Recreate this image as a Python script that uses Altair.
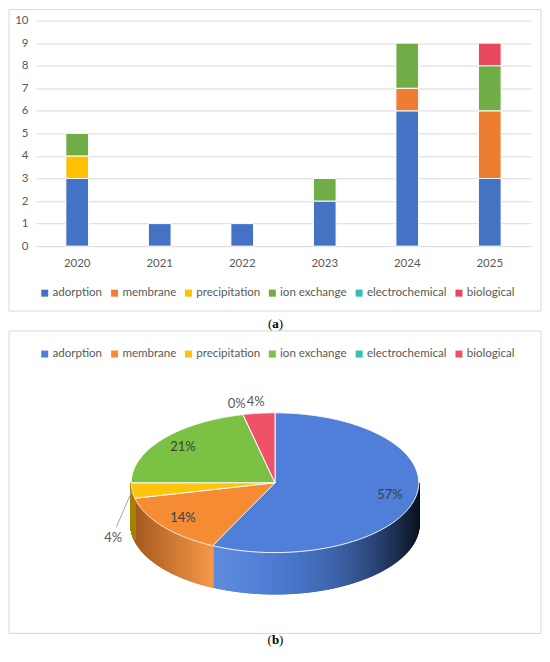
import altair as alt
import pandas as pd

# ---------------- data ----------------
years = ["2020", "2021", "2022", "2023", "2024", "2025"]
categories = ["adorption", "membrane", "precipitation", "ion exchange",
              "electrochemical", "biological"]
adorption = [3, 1, 1, 2, 6, 3]
membrane = [0, 0, 0, 0, 1, 3]
precipitation = [1, 0, 0, 0, 0, 0]
ion_exchange = [1, 0, 0, 1, 2, 2]
electrochemical = [0, 0, 0, 0, 0, 0]
biological = [0, 0, 0, 0, 0, 1]
y_ticks = [0, 1, 2, 3, 4, 5, 6, 7, 8, 9, 10]

series = [adorption, membrane, precipitation, ion_exchange, electrochemical, biological]

# ---------------- style ----------------
bar_colors = ["#4472c4", "#ed7d31", "#ffc000", "#70ad47", "#2ebfb3", "#e8485e"]
pie_colors = ["#4f7fd9", "#f58b33", "#ffc30d", "#7bc143", "#2fc4b7", "#ef5168"]
FONT = "Lato"
SERIF = "Liberation Serif"
GRAY = "#595959"
FRAME = "#d9d9d9"


def hex_rgb(h):
    h = h.lstrip("#")
    return [int(h[i:i + 2], 16) for i in (0, 2, 4)]


pie_rgb = [hex_rgb(c) for c in pie_colors]

rows = []
for ci, (cat, vals) in enumerate(zip(categories, series)):
    for yr, v in zip(years, vals):
        rows.append({"year": yr, "category": cat, "cat_idx": ci, "count": v})
bar_df = pd.DataFrame(rows)

pie_df = pd.DataFrame({
    "category": categories,
    "cat_idx": list(range(len(categories))),
    "total": [sum(v) for v in series],
})
deco_df = pd.DataFrame({"k": [0]})

# frame geometry (relative to each panel's plot origin)
FL, FR = -27, 506

# ---------------- panel (a): stacked bars ----------------
legend_common = dict(
    orient="none", direction="horizontal", title=None, symbolType="square",
    symbolSize=49, symbolStrokeWidth=0, labelFont=FONT, labelFontSize=11.6,
    labelColor=GRAY, columnPadding=6, labelOffset=2, padding=0,
)

bars = (
    alt.Chart(bar_df)
    .transform_filter("datum.count > 0")
    .mark_bar(stroke="white", strokeWidth=1)
    .encode(
        x=alt.X("year:N", sort=years,
                scale=alt.Scale(paddingInner=0.725, paddingOuter=0.3625),
                axis=alt.Axis(title=None, labelAngle=0, domain=False, ticks=False,
                              labelPadding=11, labelFont=FONT, labelFontSize=11.5,
                              labelColor=GRAY)),
        y=alt.Y("count:Q", stack="zero",
                scale=alt.Scale(domain=[0, 10], nice=False),
                axis=alt.Axis(title=None, values=y_ticks, domain=False, ticks=False,
                              labelPadding=8, labelFont=FONT, labelFontSize=11.5,
                              labelColor=GRAY, gridColor=FRAME, gridWidth=1)),
        color=alt.Color("category:N",
                        scale=alt.Scale(domain=categories, range=bar_colors),
                        legend=alt.Legend(legendX=3, legendY=267, **legend_common)),
        order=alt.Order("cat_idx:Q", sort="ascending"),
    )
)

frame_a = alt.Chart(deco_df).mark_rect(fillOpacity=0, stroke=FRAME, strokeWidth=1).encode(
    x=alt.value(FL), x2=alt.value(FR), y=alt.value(-11), y2=alt.value(291)
)

panel_a = alt.layer(frame_a, bars).properties(width=496, height=226)

# ---------------- panel (b): 3-D pie ----------------
PW, PH = FR, 334
X0, Y0 = 35.5, 312
CX, CY, A, B, DEPTH = 275, 482, 144, 70, 42
N_ARC, N_SIDE = 120, 300
R_IN, R_OUT = 0.82, 1.2
LDX, LDY = -19, 48

xs = alt.Scale(domain=[X0, X0 + PW], nice=False, zero=False)
ys = alt.Scale(domain=[Y0, Y0 + PH], nice=False, zero=False, reverse=True)
pie_scale = alt.Scale(domain=categories, range=pie_colors)
pie_legend = alt.Legend(legendX=3, legendY=35, **legend_common)

R_ARR = "[" + ",".join(str(c[0]) for c in pie_rgb) + "]"
G_ARR = "[" + ",".join(str(c[1]) for c in pie_rgb) + "]"
B_ARR = "[" + ",".join(str(c[2]) for c in pie_rgb) + "]"


def pie_base():
    return (
        alt.Chart(pie_df)
        .transform_joinaggregate(grand="sum(total)")
        .transform_window(cum="sum(total)", sort=[alt.SortField("cat_idx")], frame=[None, 0])
        .transform_calculate(a0="2*PI*(datum.cum - datum.total)/datum.grand")
        .transform_calculate(a1="2*PI*datum.cum/datum.grand")
        .transform_calculate(pct="datum.total/datum.grand")
    )


top = (
    pie_base()
    .transform_calculate(pts=f"sequence(0, {N_ARC + 2})")
    .transform_flatten(["pts"])
    .transform_calculate(th=f"datum.a0 + (datum.a1 - datum.a0)*(datum.pts - 1)/{N_ARC}")
    .transform_calculate(px=f"datum.pts == 0 ? {CX} : {CX} + {A}*sin(datum.th)")
    .transform_calculate(py=f"datum.pts == 0 ? {CY} : {CY} - {B}*cos(datum.th)")
    .mark_line(filled=True, interpolate="linear-closed", stroke="white",
               strokeWidth=1, strokeOpacity=0.9, strokeJoin="round")
    .encode(
        x=alt.X("px:Q", scale=xs, axis=None),
        y=alt.Y("py:Q", scale=ys, axis=None),
        order=alt.Order("pts:Q"),
        color=alt.Color("category:N", scale=pie_scale, legend=pie_legend),
    )
)

side = (
    pie_base()
    .transform_calculate(lo="max(datum.a0, PI/2)")
    .transform_calculate(hi="min(datum.a1, 3*PI/2)")
    .transform_filter("datum.hi > datum.lo")
    .transform_calculate(s=f"sequence(0, {N_SIDE + 1})")
    .transform_flatten(["s"])
    .transform_calculate(th=f"datum.lo + (datum.hi - datum.lo)*datum.s/{N_SIDE}")
    .transform_calculate(sx=f"{CX} + {A}*sin(datum.th)")
    .transform_calculate(sy=f"{CY} - {B}*cos(datum.th)")
    .transform_calculate(sy2=f"datum.sy + {DEPTH}")
    .transform_calculate(u="sin(datum.th)")
    .transform_calculate(
        shade="datum.u > -0.45 ? 0.86*pow((datum.u + 0.45)/1.45, 2.6) : 0.34*(-0.45 - datum.u)/0.55"
    )
    .transform_calculate(lit="0.1*max(0, 1 - abs(datum.u + 0.45)/0.5)")
    .transform_calculate(
        col=(
            f"'rgb(' + round({R_ARR}[datum.cat_idx]*(1 - datum.shade) + (255 - {R_ARR}[datum.cat_idx])*datum.lit)"
            f" + ',' + round({G_ARR}[datum.cat_idx]*(1 - datum.shade) + (255 - {G_ARR}[datum.cat_idx])*datum.lit)"
            f" + ',' + round({B_ARR}[datum.cat_idx]*(1 - datum.shade) + (255 - {B_ARR}[datum.cat_idx])*datum.lit) + ')'"
        )
    )
    .mark_rule(strokeWidth=2)
    .encode(
        x=alt.X("sx:Q", scale=xs, axis=None),
        y=alt.Y("sy:Q", scale=ys, axis=None),
        y2=alt.Y2("sy2:Q"),
        color=alt.Color("col:N", scale=None),
    )
)

label_base = (
    pie_base()
    .transform_calculate(mid="(datum.a0 + datum.a1)/2")
    .transform_calculate(small="datum.pct < 0.05")
    .transform_calculate(lead="datum.small && cos(datum.mid) < 0")
    .transform_calculate(rx=f"{CX} + {A}*sin(datum.mid)")
    .transform_calculate(ry=f"{CY} - {B}*cos(datum.mid)")
    .transform_calculate(
        lx=f"datum.lead ? datum.rx + ({LDX}) : (datum.small ? {CX} + {R_OUT * A}*sin(datum.mid) : {CX} + {R_IN * A}*sin(datum.mid))"
    )
    .transform_calculate(
        ly=f"datum.lead ? datum.ry + {LDY} : (datum.small ? {CY} - {R_OUT * B}*cos(datum.mid) + 3 : {CY} - {R_IN * B}*cos(datum.mid))"
    )
    .transform_calculate(lx2="datum.lx + 3")
    .transform_calculate(ly2="datum.ly - 11")
    .transform_calculate(label="format(datum.pct, '.0%')")
)

leader = label_base.transform_filter("datum.lead").mark_rule(color="#a6a6a6", strokeWidth=1).encode(
    x=alt.X("rx:Q", scale=xs, axis=None),
    y=alt.Y("ry:Q", scale=ys, axis=None),
    x2=alt.X2("lx2:Q"),
    y2=alt.Y2("ly2:Q"),
)

labels = label_base.mark_text(font=FONT, fontSize=13, baseline="middle", align="center").encode(
    x=alt.X("lx:Q", scale=xs, axis=None),
    y=alt.Y("ly:Q", scale=ys, axis=None),
    text="label:N",
    color=alt.condition("datum.small", alt.value(GRAY), alt.value("#404040")),
)

frame_b = alt.Chart(deco_df).mark_rect(fillOpacity=0, stroke=FRAME, strokeWidth=1).encode(
    x=alt.value(FL), x2=alt.value(FR), y=alt.value(18), y2=alt.value(321)
)


def caption(letter, cx, cy, half):
    base = alt.Chart(deco_df)
    lp = base.mark_text(text="(", align="right", baseline="middle", font=SERIF,
                        fontSize=13, color="black").encode(x=alt.value(cx - half), y=alt.value(cy))
    mid = base.mark_text(text=letter, align="center", baseline="middle", font=SERIF,
                         fontSize=13, fontWeight="bold", color="black").encode(x=alt.value(cx), y=alt.value(cy))
    rp = base.mark_text(text=")", align="left", baseline="middle", font=SERIF,
                        fontSize=13, color="black").encode(x=alt.value(cx + half), y=alt.value(cy))
    return [lp, mid, rp]


CAP_X = 275.5 - X0

panel_b = alt.layer(
    frame_b, side, top, leader, labels,
    *caption("a", CAP_X, 11, 3.3),
    *caption("b", CAP_X, 328, 3.6),
).properties(width=PW, height=PH)

chart = (
    alt.vconcat(panel_a, panel_b, spacing=1)
    .resolve_scale(color="independent")
    .resolve_legend(color="independent")
    .properties(padding=0)
    .configure(font=FONT)
    .configure_view(stroke=None)
)

chart.save("out.html", embed_options={"renderer": "svg", "actions": False})
